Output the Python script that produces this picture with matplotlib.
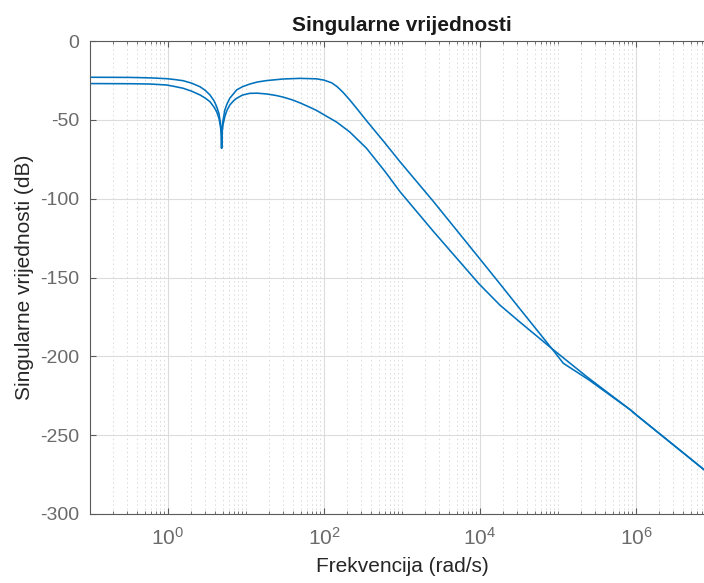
import numpy as np
import matplotlib.pyplot as plt
from matplotlib.ticker import FixedLocator, FuncFormatter

# frequencies (rad/s) and singular values (dB)
w_hi = [0.1, 0.33, 0.6, 0.96, 1.2, 1.57, 2.0, 2.57, 3.0, 3.45, 3.9, 4.2, 4.5, 4.7, 4.82,
        4.87, 4.92, 5.05, 5.35, 5.7, 6.2, 6.9, 7.6, 9.0, 11.2, 14, 18.4, 30, 49, 80, 100,
        125, 146, 175, 215, 270, 350, 600, 940, 2.5e3, 9.7e3, 1.8e4, 3.2e4, 8.3e4, 1.17e5,
        2.5e5, 8.5e5, 1e6, 1e7]
sv_hi = [-23.0, -23.1, -23.4, -23.9, -24.4, -25.2, -26.7, -29.0, -31.3, -34.2, -38.0, -41.6,
         -46.0, -52.0, -58.0, -68.0, -58.0, -51.0, -43.8, -40.0, -36.3, -33.5, -31.0, -29.0,
         -27.3, -26.0, -25.1, -24.1, -23.7, -24.0, -24.8, -26.5, -28.8, -32.5, -37.5, -43.5,
         -50.5, -64.5, -76.5, -101.5, -137.5, -154.0, -169.5, -195.0, -204.4, -215.0,
         -234.0, -237.0, -277.0]

w_lo = [0.1, 0.33, 0.6, 0.96, 1.2, 1.57, 2.0, 2.57, 3.0, 3.45, 3.9, 4.2, 4.5, 4.7, 4.82,
        4.87, 4.92, 5.05, 5.35, 5.7, 6.2, 6.9, 7.6, 9.0, 11.2, 14, 18.4, 24, 30, 39, 49, 63,
        80, 100, 146, 215, 350, 600, 940, 2.5e3, 9.7e3, 1.8e4, 3.2e4, 8.3e4, 2.35e5, 8.5e5,
        1e6, 1e7]
sv_lo = [-27.0, -27.1, -27.3, -27.9, -28.8, -30.0, -31.8, -34.2, -36.2, -38.5, -42.0, -44.8,
         -49.0, -54.0, -59.0, -68.0, -59.0, -53.5, -48.0, -44.0, -40.6, -38.0, -36.3, -34.3,
         -33.2, -33.1, -33.6, -34.5, -35.6, -37.3, -39.2, -41.6, -44.0, -46.8, -51.5, -57.8,
         -68.0, -82.5, -95.5, -120.5, -154.0, -167.5, -178.0, -195.0, -213.0, -234.0,
         -237.0, -277.0]

x_major = [1e0, 1e2, 1e4, 1e6]
y_ticks = [-300, -250, -200, -150, -100, -50, 0]

plt.rcParams['font.family'] = ['Liberation Sans', 'DejaVu Sans']
plt.rcParams['mathtext.fontset'] = 'custom'
plt.rcParams['mathtext.rm'] = 'Liberation Sans'
plt.rcParams['mathtext.it'] = 'Liberation Sans'
plt.rcParams['axes.unicode_minus'] = False

fig = plt.figure(figsize=(7.04, 5.83), dpi=100)
ax = fig.add_axes([90/704, 69/583, 624/704, 473/583])

blue = '#0072BD'
ax.semilogx(w_hi, sv_hi, color=blue, lw=1.15)
ax.semilogx(w_lo, sv_lo, color=blue, lw=1.15)

ax.set_xlim(0.1, 1e7)
ax.set_ylim(-300, 0)

minors = [k * 10.0**n for n in range(-1, 7) for k in range(1, 10)]
minors = [m for m in minors if m not in x_major]
ax.xaxis.set_major_locator(FixedLocator(x_major))
ax.xaxis.set_minor_locator(FixedLocator(minors))
ax.xaxis.set_major_formatter(FuncFormatter(lambda v, p: r'$10^{%d}$' % round(np.log10(v))))
ax.xaxis.set_minor_formatter(FuncFormatter(lambda v, p: ''))
ax.set_yticks(y_ticks)

ax.grid(True, which='major', color='#dcdcdc', lw=0.8, ls='-')
ax.grid(True, which='minor', axis='x', color='#dadada', lw=0.7, ls=(0, (1.5, 3)))
ax.set_axisbelow(True)

for s in ['left', 'bottom', 'top', 'right']:
    ax.spines[s].set_color('#5a5a5a')
    ax.spines[s].set_linewidth(0.8)

ax.tick_params(which='both', direction='in', colors='#5a5a5a', labelsize=14,
               top=True, right=True)
ax.tick_params(which='major', length=4)
ax.tick_params(which='minor', length=2.5)
ax.tick_params(axis='x', which='major', pad=9, labelsize=15)
ax.tick_params(axis='y', pad=8)
ax.tick_params(axis='both', labelcolor='#6a6a6a')

ax.set_title('Singularne vrijednosti', fontsize=15, fontweight='bold', color='#1a1a1a', pad=7)
ax.set_xlabel('Frekvencija (rad/s)', fontsize=15, color='#262626', labelpad=6)
ax.set_ylabel('Singularne vrijednosti (dB)', fontsize=15, color='#262626', labelpad=4)

fig.savefig('out.png', dpi=100)
